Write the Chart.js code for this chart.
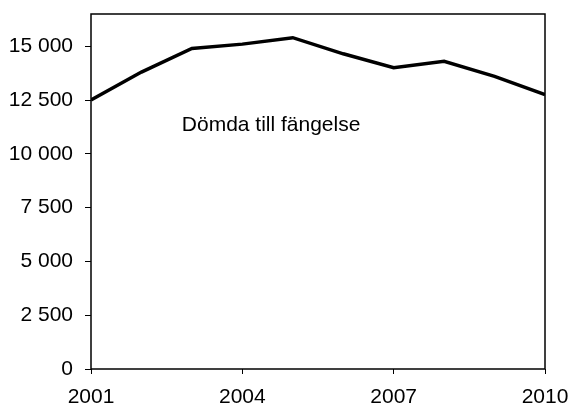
<!DOCTYPE html>
<html>
<head>
<meta charset="utf-8">
<script src="https://cdn.jsdelivr.net/npm/chart.js@4.4.1/dist/chart.umd.min.js"></script>
<style>
  html, body { margin: 0; padding: 0; background: #fff; }
  #wrap { width: 571px; height: 407px; position: relative; }
</style>
</head>
<body>
<div id="wrap"><canvas id="chart"></canvas></div>
<script>
// data
const years = [2001, 2002, 2003, 2004, 2005, 2006, 2007, 2008, 2009, 2010];
const imprisoned = [12500, 13800, 14900, 15100, 15400, 14650, 14000, 14300, 13600, 12750];
const yTicks = [0, 2500, 5000, 7500, 10000, 12500, 15000];
const xTicks = [2001, 2004, 2007, 2010];
const seriesLabel = 'Dömda till fängelse';

const FONT = { family: '"Liberation Sans", Arial, sans-serif', size: 21 };

// thousands with a space, like the Swedish original
const fmt = v => String(v).replace(/\B(?=(\d{3})+(?!\d))/g, ' ');

// frame round the plot area + the in-chart label
const framePlugin = {
  id: 'frame',
  afterDatasetsDraw(chart) {
    const { ctx, chartArea: a, scales } = chart;
    ctx.save();
    ctx.strokeStyle = '#000';
    ctx.lineWidth = 1.5;
    ctx.strokeRect(a.left, a.top, a.right - a.left, a.bottom - a.top);
    ctx.fillStyle = '#000';
    ctx.font = `${FONT.size}px ${FONT.family}`;
    ctx.textBaseline = 'middle';
    ctx.textAlign = 'left';
    ctx.fillText(seriesLabel, scales.x.getPixelForValue(2002.8), scales.y.getPixelForValue(11350));
    ctx.restore();
  }
};

new Chart(document.getElementById('chart'), {
  type: 'line',
  data: {
    datasets: [{
      label: seriesLabel,
      data: years.map((y, i) => ({ x: y, y: imprisoned[i] })),
      borderColor: '#000',
      borderWidth: 3.5,
      pointRadius: 0,
      tension: 0,
      fill: false
    }]
  },
  options: {
    responsive: true,
    maintainAspectRatio: false,
    animation: false,
    layout: { padding: { top: 14, right: 26, left: 0, bottom: 0 } },
    plugins: {
      legend: { display: false },
      tooltip: { enabled: false }
    },
    scales: {
      x: {
        type: 'linear',
        min: 2001,
        max: 2010,
        afterBuildTicks: axis => { axis.ticks = xTicks.map(v => ({ value: v })); },
        afterFit: axis => {
          axis.height = 38;
          axis.paddingLeft = 0;
          axis.paddingRight = 0;
        },
        ticks: {
          color: '#000',
          font: FONT,
          padding: 11,
          maxRotation: 0,
          callback: v => String(v)
        },
        grid: { drawOnChartArea: false, color: '#000', tickLength: 5, lineWidth: 1 },
        border: { display: false }
      },
      y: {
        min: 0,
        max: 16500,
        afterBuildTicks: axis => { axis.ticks = yTicks.map(v => ({ value: v })); },
        afterFit: axis => {
          axis.width = 91;
          axis.paddingTop = 0;
          axis.paddingBottom = 0;
        },
        ticks: {
          color: '#000',
          font: FONT,
          padding: 12,
          callback: v => fmt(v)
        },
        grid: { drawOnChartArea: false, color: '#000', tickLength: 6, lineWidth: 1 },
        border: { display: false }
      }
    }
  },
  plugins: [framePlugin]
});
</script>
</body>
</html>
